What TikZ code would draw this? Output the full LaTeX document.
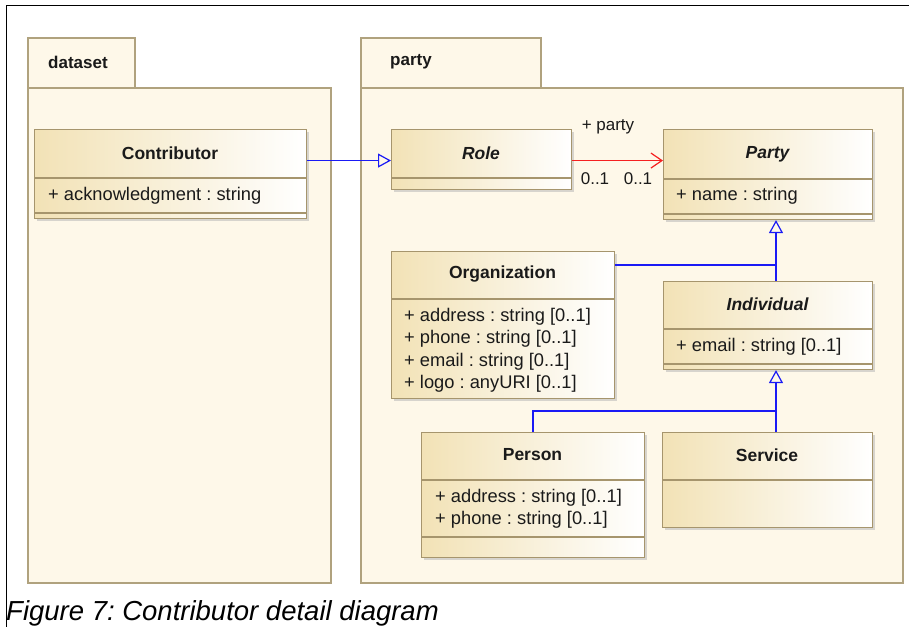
\documentclass[tikz,border=0pt]{standalone}
\usepackage{fontspec}
\setmainfont{Liberation Sans}
\frenchspacing
\usetikzlibrary{arrows.meta,shadows}
\definecolor{pkgfill}{HTML}{FEF8E9}
\definecolor{pkgline}{HTML}{B0A27E}
\definecolor{clsleft}{HTML}{F2E2B6}
\definecolor{clsline}{HTML}{A6956D}
\definecolor{txt}{HTML}{1A1A1A}
\definecolor{genblue}{HTML}{1A1AF5}
\definecolor{assocred}{HTML}{F52020}
\tikzset{
  pkg/.style={draw=pkgline, fill=pkgfill, line width=1.1pt},
  pkgname/.style={font=\fontsize{17}{19}\selectfont\bfseries, text=txt, anchor=west, inner sep=0pt},
  cls/.style={draw=clsline, line width=1.1pt, left color=clsleft, right color=white, rectangle, inner sep=0pt, anchor=north west,
    drop shadow={shadow xshift=2pt, shadow yshift=-2pt, fill=black!30, opacity=.5}},
  sepl/.style={draw=clsline, line width=1.1pt},
  cname/.style={font=\fontsize{17.5}{19}\selectfont\bfseries, text=txt, inner sep=0pt},
  aname/.style={font=\fontsize{17.5}{19}\selectfont\bfseries\itshape, text=txt, inner sep=0pt},
  attr/.style={font=\fontsize{18.3}{20}\selectfont, text=txt, anchor=west, inner sep=0pt},
  gen/.style={draw=genblue, line width=1.5pt, -{Triangle[open, length=13pt, width=14pt, line width=1.2pt]}},
  genl/.style={draw=genblue, line width=1.5pt},
  assoc/.style={draw=assocred, line width=1.5pt, -{Straight Barb[length=11pt, width=15pt, line width=1.2pt]}},
  lbl/.style={font=\fontsize{17}{19}\selectfont, text=txt, inner sep=0pt},
}
\begin{document}
\begin{tikzpicture}[x=1pt,y=-1pt]
\useasboundingbox (0,0) rectangle (909,627);
% outer frame
\draw[black, line width=0.9pt] (909,5) -- (6,5) -- (6,627);
% packages
\draw[pkg] (28,38) rectangle (135,88);
\draw[pkg] (28,88) rectangle (331,583);
\node[pkgname] (pkgdataset) at (48,62) {dataset};
\draw[pkg] (361,38) rectangle (541,88);
\draw[pkg] (361,88) rectangle (903,583);
\node[pkgname] (pkgparty) at (390,62) {party};

% Contributor
\node[cls, minimum width=272, minimum height=89] (contrib) at (34,129) {};
\draw[sepl] (34,178) -- (306,178);
\draw[sepl] (34,213) -- (306,213);
\node[cname] (contribn) at (170,153.5) {Contributor};
\node[attr] (contriba) at (48,195.5) {+ acknowledgment : string};

% Role
\node[cls, minimum width=180, minimum height=60] (role) at (391,129) {};
\draw[sepl] (391,178) -- (571,178);
\node[aname] (rolen) at (481,153.5) {Role};

% Party
\node[cls, minimum width=209, minimum height=90] (party) at (663,129) {};
\draw[sepl] (663,179) -- (872,179);
\draw[sepl] (663,214) -- (872,214);
\node[aname] (partyn) at (767.5,154) {Party};
\node[attr] (partya) at (676,196) {+ name : string};

% Organization
\node[cls, minimum width=223, minimum height=147] (org) at (391,251) {};
\draw[sepl] (391,299) -- (614,299);
\node[cname] (orgn) at (502.5,274) {Organization};
\node[attr] (orga1) at (404,316.5) {+ address : string [0..1]};
\node[attr] (orga2) at (404,339) {+ phone : string [0..1]};
\node[attr] (orga3) at (404,361.5) {+ email : string [0..1]};
\node[attr] (orga4) at (404,384) {+ logo : anyURI [0..1]};

% Individual
\node[cls, minimum width=209, minimum height=88] (indiv) at (663,281) {};
\draw[sepl] (663,329) -- (872,329);
\draw[sepl] (663,364) -- (872,364);
\node[aname] (indivn) at (767.5,304) {Individual};
\node[attr] (indiva) at (676,347) {+ email : string [0..1]};

% Person
\node[cls, minimum width=223, minimum height=125] (person) at (421,432) {};
\draw[sepl] (421,480) -- (644,480);
\draw[sepl] (421,537) -- (644,537);
\node[cname] (personn) at (532.5,455) {Person};
\node[attr] (persona1) at (435,497.5) {+ address : string [0..1]};
\node[attr] (persona2) at (435,520) {+ phone : string [0..1]};

% Service
\node[cls, minimum width=210, minimum height=95] (service) at (662,432) {};
\draw[sepl] (662,480) -- (872,480);
\node[cname] (servicen) at (767,455) {Service};

% connectors
\coordinate (j1) at (776,265);
\coordinate (j2) at (776,411);
\coordinate (rolein) at ([yshift=-1pt]role.west);
\coordinate (roleout) at ([yshift=-1pt]role.east);
\draw[gen] (contrib.east |- rolein) -- (rolein);
\draw[assoc] (roleout) -- (party.west |- roleout);
\node[lbl] (lparty) at (608,127) {+ party};
\node[lbl] (m1) at (595,179) {0..1};
\node[lbl] (m2) at (638,179) {0..1};
\draw[genl] (org.east |- j1) -- (j1);
\draw[genl] (indiv.north -| j1) -- (j1);
\draw[gen] (j1) -- (j1 |- party.south);
\draw[genl] (person.north) |- (j2);
\draw[genl] (service.north -| j2) -- (j2);
\draw[gen] (j2) -- (j2 |- indiv.south);

% caption
\node[font=\fontsize{27.5}{29}\selectfont\itshape, text=black, anchor=base west, inner sep=0pt] (caption) at (6,620) {Figure 7: Contributor detail diagram};
\end{tikzpicture}
\end{document}
